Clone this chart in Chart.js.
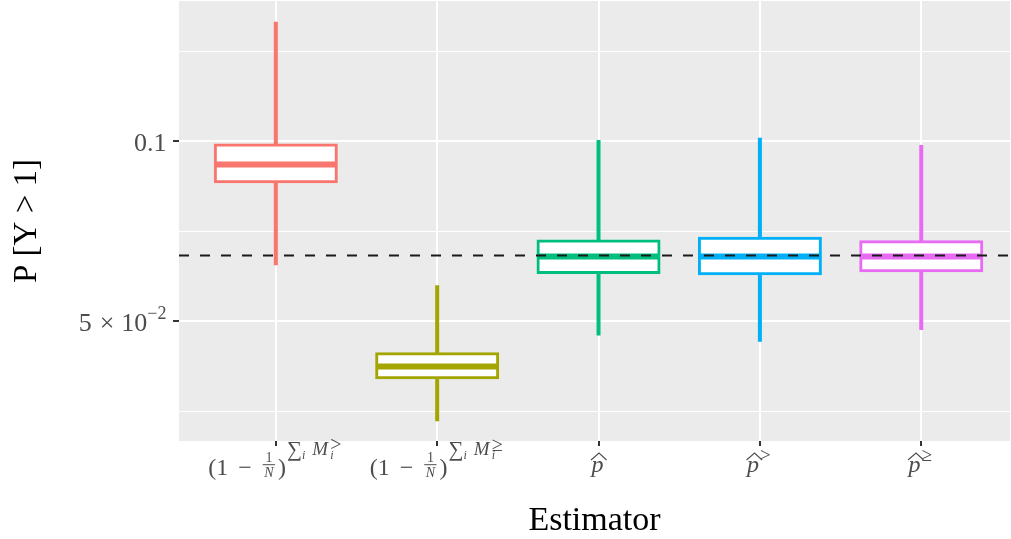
<!DOCTYPE html>
<html>
<head>
<meta charset="utf-8">
<title>P[Y > 1] by estimator</title>
<script src="https://cdn.jsdelivr.net/npm/chart.js@4.4.1/dist/chart.umd.min.js"></script>
<style>
  html, body { margin: 0; padding: 0; background: #ffffff; }
  #wrap { width: 1011px; height: 539px; }
</style>
</head>
<body>
<div id="wrap"><canvas id="estimatorChart"></canvas></div>
<script>
// estimators, one box per category (x = 0..4)
const estimators = ['sum_gt', 'sum_ge', 'p_hat', 'p_hat_gt', 'p_hat_ge'];
const boxColors = ['#F8766D', '#A3A500', '#00BF7D', '#00B0F6', '#E76BF3'];

// five-number summaries
const whiskerLow    = [0.0620, 0.0340, 0.0473, 0.0462, 0.0483];
const lowerQuartile = [0.0855, 0.0402, 0.0603, 0.0600, 0.0607];
const medians       = [0.0914, 0.0420, 0.0641, 0.0641, 0.0641];
const upperQuartile = [0.0985, 0.0441, 0.0681, 0.0688, 0.0679];
const whiskerHigh   = [0.1583, 0.0574, 0.1004, 0.1013, 0.0985];

// true probability, dashed reference line
const trueValue = 0.0644;

// log axis breaks
const majorBreaks = [0.05, 0.1];
const minorBreaks = [0.03536, 0.07071, 0.14142];

const xMin = -0.6, xMax = 4.55;
const yMin = 0.03152, yMax = 0.17146;

const SERIF = '"Liberation Serif", "DejaVu Serif", serif';
const TEXT_GREY = '#4D4D4D';

function fontOf(size, italic) {
    return (italic ? 'italic ' : '') + size + 'px ' + SERIF;
}

// small typesetter for the math tick labels
function partWidth(c, p) {
    if (p.gap) return p.gap;
    if (p.frac) {
        c.font = fontOf(p.size, p.frac[0].it);
        const a = c.measureText(p.frac[0].t).width;
        c.font = fontOf(p.size, p.frac[1].it);
        const b = c.measureText(p.frac[1].t).width;
        return Math.max(a, b) + 3;
    }
    if (p.stack) {
        return Math.max(...p.stack.map(s => {
            c.font = fontOf(s.size || p.size, s.it);
            return c.measureText(s.t).width;
        }));
    }
    c.font = fontOf(p.size, p.it);
    return c.measureText(p.t).width;
}

function drawParts(c, parts, x, baseline, align) {
    const widths = parts.map(p => partWidth(c, p));
    const total = widths.reduce((a, b) => a + b, 0);
    let cx = align === 'right' ? x - total : x - total / 2;
    parts.forEach((p, i) => {
        const w = widths[i];
        if (p.frac) {
            c.font = fontOf(p.size, p.frac[0].it);
            let tw = c.measureText(p.frac[0].t).width;
            c.fillText(p.frac[0].t, cx + (w - tw) / 2, baseline - 13.5);
            c.font = fontOf(p.size, p.frac[1].it);
            tw = c.measureText(p.frac[1].t).width;
            c.fillText(p.frac[1].t, cx + (w - tw) / 2, baseline + 1.5);
            c.fillRect(cx, baseline - 10.8, w, 1);
        } else if (p.stack) {
            p.stack.forEach(s => {
                c.font = fontOf(s.size || p.size, s.it);
                c.fillText(s.t, cx, baseline + s.dy);
            });
        } else if (p.t) {
            c.font = fontOf(p.size, p.it);
            c.fillText(p.t, cx, baseline + (p.dy || 0));
            if (p.hat) {
                const b = baseline + (p.dy || 0);
                c.lineWidth = 1.1;
                c.beginPath();
                c.moveTo(cx - 0.5, b - 11.5);
                c.lineTo(cx + w / 2 + 1.5, b - 18.5);
                c.lineTo(cx + w + 3, b - 11.5);
                c.stroke();
            }
        }
        cx += w;
    });
}

function sumLabel(rel) {
    return [
        { t: '(1', size: 24 }, { gap: 10 }, { t: '−', size: 24 }, { gap: 11 },
        { frac: [{ t: '1' }, { t: 'N', it: true }], size: 14 }, { gap: 3 },
        { t: ')', size: 24 }, { gap: 1 },
        { t: '∑', size: 21, dy: -19 }, { t: 'i', size: 12, it: true, dy: -16 }, { gap: 7 },
        { t: 'M', size: 19, it: true, dy: -20 }, { gap: 2 },
        { stack: [{ t: rel, dy: -24, size: 20 }, { t: 'i', it: true, dy: -16, size: 12 }] }
    ];
}

function hatLabel(rel) {
    const parts = [{ t: 'p', size: 24, it: true, hat: true, dy: -3.5 }];
    if (rel) parts.push({ gap: 1 }, { t: rel, size: 19, dy: -14 });
    return parts;
}

const xLabelParts = [sumLabel('>'), sumLabel('≥'), hatLabel(''), hatLabel('>'), hatLabel('≥')];
const yLabelParts = [
    [{ t: '5', size: 26 }, { gap: 8 }, { t: '×', size: 26 }, { gap: 7 }, { t: '10', size: 26 }, { t: '−2', size: 18, dy: -12 }],
    [{ t: '0.1', size: 26 }]
];

const panelBackground = {
    id: 'panelBackground',
    beforeDraw(chart) {
        const { ctx, chartArea: a } = chart;
        ctx.save();
        ctx.fillStyle = '#EBEBEB';
        ctx.fillRect(a.left, a.top, a.right - a.left, a.bottom - a.top);
        ctx.restore();
    }
};

const mathLabels = {
    id: 'mathLabels',
    afterDraw(chart) {
        const c = chart.ctx, xs = chart.scales.x, ys = chart.scales.y;
        c.save();
        c.fillStyle = TEXT_GREY;
        c.strokeStyle = TEXT_GREY;
        c.textBaseline = 'alphabetic';
        c.textAlign = 'left';
        xLabelParts.forEach((parts, i) => {
            drawParts(c, parts, xs.getPixelForValue(i) - 1, 475, 'center');
        });
        majorBreaks.forEach((v, i) => {
            drawParts(c, yLabelParts[i], chart.chartArea.left - 12.5, ys.getPixelForValue(v) + 9.5, 'right');
        });
        c.restore();
    }
};

const isMajor = v => majorBreaks.some(b => Math.abs(b - v) < 1e-9);

const ctx = document.getElementById('estimatorChart').getContext('2d');
new Chart(ctx, {
    type: 'bar',
    data: {
        datasets: [
            {
                type: 'line',
                data: [{ x: xMin, y: trueValue }, { x: xMax, y: trueValue }],
                borderColor: '#1A1A1A',
                borderWidth: 2,
                borderDash: [10, 11],
                pointRadius: 0,
                order: 1
            },
            {
                type: 'scatter',
                data: medians.map((m, i) => ({ x: i, y: m })),
                pointStyle: 'line',
                pointRadius: 60.5,
                pointBorderWidth: 6,
                pointBorderColor: boxColors,
                pointBackgroundColor: boxColors,
                order: 2
            },
            {
                type: 'bar',
                data: estimators.map((e, i) => ({ x: i, y: [lowerQuartile[i], upperQuartile[i]] })),
                backgroundColor: '#FFFFFF',
                borderColor: boxColors,
                borderWidth: 3,
                borderSkipped: false,
                inflateAmount: 1.5,
                barThickness: 121,
                grouped: false,
                order: 3
            },
            {
                type: 'bar',
                data: estimators.map((e, i) => ({ x: i, y: [whiskerLow[i], whiskerHigh[i]] })),
                backgroundColor: boxColors,
                borderWidth: 0,
                inflateAmount: 0,
                barThickness: 4,
                grouped: false,
                order: 4
            }
        ]
    },
    options: {
        responsive: true,
        maintainAspectRatio: false,
        animation: false,
        events: [],
        layout: { autoPadding: false, padding: { top: 1, right: 1, left: 0, bottom: 0 } },
        plugins: {
            legend: { display: false },
            tooltip: { enabled: false }
        },
        scales: {
            x: {
                type: 'linear',
                min: xMin,
                max: xMax,
                offset: false,
                afterBuildTicks: scale => {
                    scale.ticks = estimators.map((e, i) => ({ value: i }));
                },
                afterFit: scale => {
                    scale.height = 98;
                    scale.paddingLeft = scale.paddingRight = 0;
                },
                border: { display: false },
                grid: {
                    offset: false,
                    color: '#FFFFFF',
                    lineWidth: 2,
                    tickColor: '#333333',
                    tickLength: 5,
                    tickWidth: 2
                },
                ticks: { display: false },
                title: {
                    display: true,
                    text: 'Estimator',
                    color: '#000000',
                    padding: 0,
                    font: { family: SERIF, size: 34, lineHeight: 1.05 }
                }
            },
            y: {
                type: 'logarithmic',
                min: yMin,
                max: yMax,
                afterBuildTicks: scale => {
                    scale.ticks = [...minorBreaks, ...majorBreaks]
                        .sort((a, b) => a - b)
                        .map(v => ({ value: v }));
                },
                afterFit: scale => {
                    scale.width = 179;
                    scale.paddingTop = scale.paddingBottom = 0;
                },
                border: { display: false },
                grid: {
                    color: '#FFFFFF',
                    lineWidth: c => (c.tick && isMajor(c.tick.value) ? 2 : 1),
                    tickColor: c => (c.tick && isMajor(c.tick.value) ? '#333333' : 'rgba(0,0,0,0)'),
                    tickLength: 6,
                    tickWidth: 2
                },
                ticks: { display: false },
                title: {
                    display: true,
                    text: 'P [Y > 1]',
                    color: '#000000',
                    padding: { top: 8, bottom: 0 },
                    font: { family: SERIF, size: 33, lineHeight: 1.2 }
                }
            }
        }
    },
    plugins: [panelBackground, mathLabels]
});
</script>
</body>
</html>
